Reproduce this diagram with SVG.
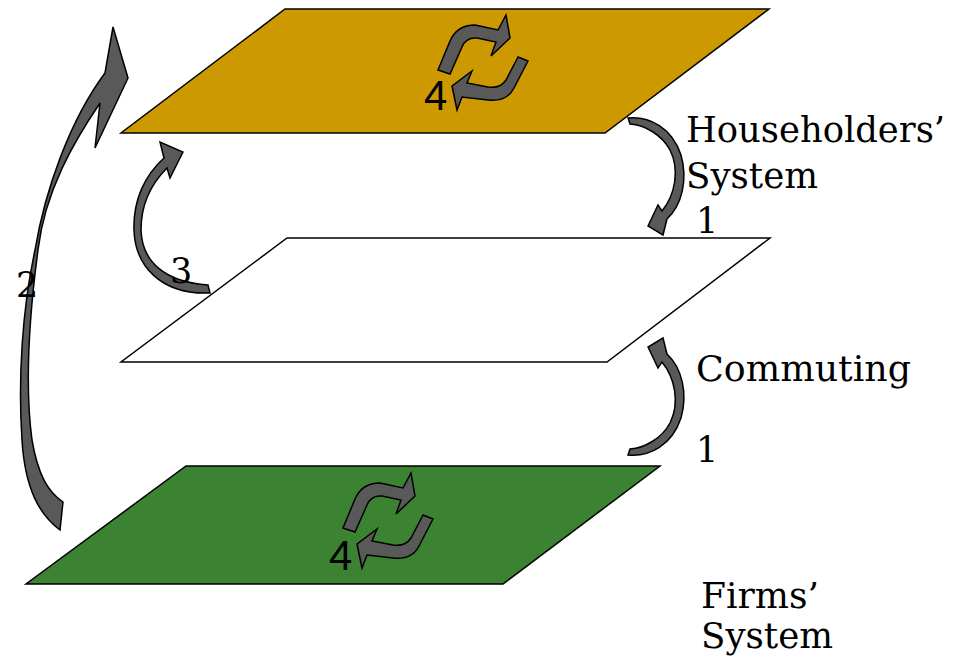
<svg xmlns="http://www.w3.org/2000/svg" xmlns:xlink="http://www.w3.org/1999/xlink" width="963" height="658" viewBox="0 0 963 658">
<style>
.plane{stroke:#000;stroke-width:1.5;stroke-linejoin:miter}
.arr{fill:#595959;stroke:#000;stroke-width:1.5;stroke-linejoin:miter}
.lbl{font-family:"DejaVu Serif","Liberation Serif",serif;font-size:35px;fill:#000}
.num{font-family:"Liberation Sans",Arial,sans-serif;font-size:42px;fill:#000}
</style>
<defs>
<g id="cycle">
<path class="arr" d="M438,70 L450,41 Q457,25 475,25 L498,30 L506,15 L510,38 L491,56 L496,42 L477,38 Q466,37 462,47 L450,74 Z"/>
<path class="arr" d="M518,57 L506,80 Q500,89 488,87 L467,83 L472,71 L452,86 L457,110 L462,97 L488,100 Q507,102 514,88 L528,61 Z"/>
</g>
<path id="arrow1" class="arr" d="M648,226 L658,205 L662,211 C675,195 680,170 670,150 C662,135 645,125 630,124 L628,118 C650,116 672,128 681,155 C688,180 682,205 667,219 L663,235 Z"/>
</defs>

<g id="households">
<polygon class="plane" fill="#CC9900" points="285,9 769,9 605,133 121,133"/>
<use xlink:href="#cycle"/>
<text class="num" x="424" y="110">4</text>
</g>

<g id="commuting">
<polygon class="plane" fill="#FFFFFF" points="287,238 770,238 607,362 121,362"/>
</g>

<g id="firms">
<polygon class="plane" fill="#3B8332" points="186,466 660,466 503,584 26,584"/>
<use xlink:href="#cycle" transform="translate(-95,458)"/>
<text class="num" x="329" y="570">4</text>
</g>

<g id="connectors">
<use xlink:href="#arrow1"/>
<use xlink:href="#arrow1" transform="translate(0,573) scale(1,-1)"/>
<path class="arr" d="M113,27 L128,78 L95,148 L100,103 C75,140 45,190 38,250 C30,310 24,380 32,440 C38,475 48,492 63,502 L60,530 C40,515 25,490 22,440 C18,380 22,310 35,250 C45,190 70,120 105,73 Z"/>
<path class="arr" d="M183,152 L170,178 L167,168 C150,185 141,205 141,230 C142,262 165,282 208,285 L210,293 C160,295 135,265 134,230 C133,200 145,175 164,158 L160,142 Z"/>
</g>

<g id="labels">
<text class="lbl" x="686" y="142" textLength="259" lengthAdjust="spacingAndGlyphs">Householders’</text>
<text class="lbl" x="686" y="188" textLength="132" lengthAdjust="spacingAndGlyphs">System</text>
<text class="lbl" x="696" y="233">1</text>
<text class="lbl" x="696" y="381" textLength="215" lengthAdjust="spacingAndGlyphs">Commuting</text>
<text class="lbl" x="696" y="462">1</text>
<text class="lbl" x="701" y="608" textLength="118" lengthAdjust="spacingAndGlyphs">Firms’</text>
<text class="lbl" x="701" y="648" textLength="132" lengthAdjust="spacingAndGlyphs">System</text>
<text class="lbl" x="16" y="297">2</text>
<text class="lbl" x="170" y="283">3</text>
</g>
</svg>
